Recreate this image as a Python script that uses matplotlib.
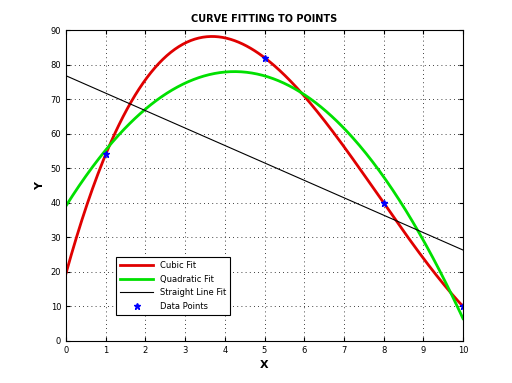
import numpy as np
import matplotlib
matplotlib.use("Agg")
import matplotlib.pyplot as plt

x_pts = [1, 5, 8, 10]
y_pts = [54, 82, 40, 10]
x_ticks = list(range(0, 11))
y_ticks = list(range(0, 91, 10))

fig = plt.figure(figsize=(5.12, 3.83), dpi=100)
ax = fig.add_axes([66/512, 1-341/383, (463-66)/512, (341-30)/383])

xs = np.linspace(0, 10, 300)
c3 = np.polyfit(x_pts, y_pts, 3)
c2 = np.polyfit(x_pts, y_pts, 2)
c1 = np.polyfit(x_pts, y_pts, 1)
ax.plot(xs, np.polyval(c3, xs), color='#e00000', lw=2, label='Cubic Fit')
ax.plot(xs, np.polyval(c2, xs), color='#00e000', lw=2, label='Quadratic Fit')
ax.plot(xs, np.polyval(c1, xs), color='black', lw=0.8, label='Straight Line Fit')
ax.plot(x_pts, y_pts, '*', color='#0000ff', ms=5, label='Data Points', linestyle='none')

ax.set_xlim(0, 10)
ax.set_ylim(0, 90)
ax.set_xticks(x_ticks)
ax.set_yticks(y_ticks)
ax.tick_params(direction='in', labelsize=6, length=3, top=True, right=True)
ax.grid(True, linestyle=(0, (1, 4)), color='black', lw=0.6)
for s in ax.spines.values():
    s.set_linewidth(0.8)
ax.set_title('CURVE FITTING TO POINTS', fontsize=7, fontweight='bold', pad=6)
ax.set_xlabel('X', fontsize=8, fontweight='bold')
ax.set_ylabel('Y', fontsize=8, fontweight='bold')
leg = ax.legend(loc='lower left', bbox_to_anchor=(0.115, 0.07), fontsize=6,
                frameon=True, fancybox=False, framealpha=1, edgecolor='black',
                handlelength=4, borderpad=0.5, labelspacing=0.55, numpoints=1)
leg.get_frame().set_linewidth(0.8)
fig.savefig('out.png', dpi=100)
